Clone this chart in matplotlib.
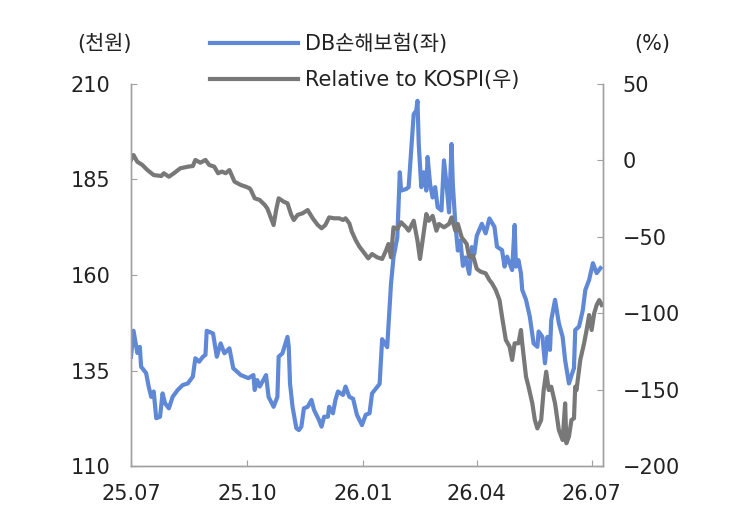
import pandas as pd
import matplotlib
matplotlib.use('Agg')
import matplotlib.pyplot as plt

plt.rcParams['font.family'] = ['DejaVu Sans', 'Noto Sans CJK KR']
plt.rcParams['axes.unicode_minus'] = True

# DB손해보험 주가 (천원, left axis)
db_dates = [
    '2025-07-01', '2025-07-03', '2025-07-06', '2025-07-08', '2025-07-09', '2025-07-13', '2025-07-15',
    '2025-07-17', '2025-07-19', '2025-07-21', '2025-07-24', '2025-07-26', '2025-07-28', '2025-07-31',
    '2025-08-03', '2025-08-07', '2025-08-11', '2025-08-15', '2025-08-19', '2025-08-21', '2025-08-24',
    '2025-08-27', '2025-08-29', '2025-08-30', '2025-09-04', '2025-09-07', '2025-09-10', '2025-09-13',
    '2025-09-17', '2025-09-20', '2025-09-26', '2025-10-02', '2025-10-06', '2025-10-07', '2025-10-09',
    '2025-10-11', '2025-10-16', '2025-10-18', '2025-10-22', '2025-10-25', '2025-10-26', '2025-10-29',
    '2025-11-02', '2025-11-03', '2025-11-04', '2025-11-06', '2025-11-09', '2025-11-11', '2025-11-13',
    '2025-11-15', '2025-11-18', '2025-11-21', '2025-11-23', '2025-11-27', '2025-11-29', '2025-12-01',
    '2025-12-04', '2025-12-05', '2025-12-08', '2025-12-10', '2025-12-12', '2025-12-16', '2025-12-18',
    '2025-12-21', '2025-12-24', '2025-12-27', '2025-12-31', '2026-01-03', '2026-01-06', '2026-01-08',
    '2026-01-14', '2026-01-16', '2026-01-20', '2026-01-23', '2026-01-25', '2026-01-28', '2026-01-30',
    '2026-01-31', '2026-02-04', '2026-02-06', '2026-02-08', '2026-02-10', '2026-02-12', '2026-02-13',
    '2026-02-14', '2026-02-16', '2026-02-18', '2026-02-20', '2026-02-21', '2026-02-23', '2026-02-25',
    '2026-02-27', '2026-03-01', '2026-03-04', '2026-03-06', '2026-03-08', '2026-03-10', '2026-03-12',
    '2026-03-13', '2026-03-15', '2026-03-17', '2026-03-19', '2026-03-21', '2026-03-23', '2026-03-26',
    '2026-03-28', '2026-03-30', '2026-04-01', '2026-04-05', '2026-04-08', '2026-04-11', '2026-04-15',
    '2026-04-17', '2026-04-21', '2026-04-23', '2026-04-25', '2026-04-29', '2026-05-01', '2026-05-02',
    '2026-05-04', '2026-05-06', '2026-05-07', '2026-05-10', '2026-05-13', '2026-05-16', '2026-05-19',
    '2026-05-20', '2026-05-23', '2026-05-25', '2026-05-27', '2026-05-29', '2026-05-30', '2026-06-02',
    '2026-06-05', '2026-06-08', '2026-06-10', '2026-06-13', '2026-06-16', '2026-06-17', '2026-06-18',
    '2026-06-21', '2026-06-24', '2026-06-26', '2026-06-29', '2026-07-02', '2026-07-05', '2026-07-08',
]
db_price = [
    138.6, 145.4, 139.6, 141.2, 136.0, 134.3, 130.8,
    128.1, 129.5, 122.5, 122.9, 129.0, 126.4, 125.1,
    128.1, 129.9, 131.2, 131.6, 133.4, 138.2, 137.3,
    138.6, 139.1, 145.4, 144.7, 138.6, 142.1, 139.5,
    140.8, 135.6, 133.8, 133.0, 133.8, 129.9, 132.5,
    130.8, 133.8, 128.1, 125.5, 128.1, 138.6, 139.5,
    143.8, 141.2, 131.6, 125.5, 119.9, 119.4, 120.3,
    125.1, 125.5, 127.3, 124.7, 122.0, 120.3, 122.9,
    122.9, 125.5, 123.8, 127.3, 129.5, 128.6, 130.8,
    128.1, 127.6, 123.4, 120.7, 123.4, 123.8, 129.0,
    131.5, 143.2, 141.1, 157.6, 164.6, 169.8, 186.9,
    182.1, 182.5, 183.0, 192.5, 202.1, 203.0, 205.6,
    194.3, 183.0, 186.9, 182.1, 190.9, 183.8, 180.3,
    183.0, 177.7, 176.9, 190.0, 183.8, 176.4, 194.3,
    183.8, 173.4, 166.4, 169.0, 162.4, 164.6, 160.3,
    167.3, 165.5, 170.3, 173.4, 170.9, 174.8, 172.6,
    167.4, 166.5, 162.2, 164.8, 161.3, 173.1, 162.2,
    163.9, 160.4, 156.1, 153.5, 149.1, 142.1, 141.2,
    145.2, 143.8, 136.9, 143.8, 140.4, 148.2, 153.5,
    147.4, 143.8, 137.7, 131.6, 134.7, 135.6, 145.6,
    146.5, 150.8, 156.1, 158.7, 163.1, 160.5, 161.8,
]

# Relative to KOSPI (%, right axis)
rel_dates = [
    '2025-07-01', '2025-07-03', '2025-07-06', '2025-07-10', '2025-07-14', '2025-07-19', '2025-07-25',
    '2025-07-27', '2025-07-31', '2025-08-04', '2025-08-09', '2025-08-15', '2025-08-19', '2025-08-21',
    '2025-08-25', '2025-08-29', '2025-09-01', '2025-09-05', '2025-09-08', '2025-09-11', '2025-09-14',
    '2025-09-17', '2025-09-21', '2025-09-26', '2025-09-30', '2025-10-03', '2025-10-04', '2025-10-07',
    '2025-10-11', '2025-10-15', '2025-10-17', '2025-10-20', '2025-10-22', '2025-10-24', '2025-10-26',
    '2025-10-30', '2025-11-02', '2025-11-05', '2025-11-07', '2025-11-10', '2025-11-14', '2025-11-18',
    '2025-11-22', '2025-11-26', '2025-11-29', '2025-12-02', '2025-12-05', '2025-12-09', '2025-12-13',
    '2025-12-16', '2025-12-18', '2025-12-21', '2025-12-23', '2025-12-26', '2025-12-29', '2025-12-31',
    '2026-01-03', '2026-01-05', '2026-01-08', '2026-01-12', '2026-01-16', '2026-01-19', '2026-01-21',
    '2026-01-23', '2026-01-25', '2026-01-28', '2026-01-31', '2026-02-04', '2026-02-06', '2026-02-10',
    '2026-02-13', '2026-02-15', '2026-02-17', '2026-02-20', '2026-02-22', '2026-02-25', '2026-02-28',
    '2026-03-02', '2026-03-06', '2026-03-10', '2026-03-12', '2026-03-15', '2026-03-17', '2026-03-20',
    '2026-03-24', '2026-03-26', '2026-03-29', '2026-04-01', '2026-04-04', '2026-04-08', '2026-04-11',
    '2026-04-13', '2026-04-16', '2026-04-19', '2026-04-21', '2026-04-24', '2026-04-27', '2026-04-29',
    '2026-05-01', '2026-05-04', '2026-05-06', '2026-05-07', '2026-05-10', '2026-05-12', '2026-05-15',
    '2026-05-17', '2026-05-19', '2026-05-22', '2026-05-24', '2026-05-26', '2026-05-28', '2026-05-30',
    '2026-06-02', '2026-06-05', '2026-06-08', '2026-06-10', '2026-06-11', '2026-06-13', '2026-06-15',
    '2026-06-17', '2026-06-18', '2026-06-19', '2026-06-22', '2026-06-25', '2026-06-27', '2026-06-29',
    '2026-07-01', '2026-07-03', '2026-07-05', '2026-07-07', '2026-07-09',
]
rel_kospi = [
    0.3, 3.5, -0.9, -3.0, -6.3, -9.6, -10.2,
    -8.4, -10.7, -8.4, -5.2, -4.1, -3.7, 0.3,
    -1.5, 0.3, -3.0, -4.1, -8.4, -7.3, -8.4,
    -6.3, -13.9, -16.1, -17.2, -18.3, -19.4, -24.8,
    -25.9, -29.2, -31.4, -37.9, -42.3, -32.5, -24.8,
    -27.0, -28.1, -35.7, -39.0, -35.7, -34.6, -32.5,
    -37.9, -42.3, -44.4, -42.3, -37.3, -37.9, -37.9,
    -39.0, -37.9, -41.2, -46.7, -52.1, -56.5, -58.6,
    -61.9, -64.1, -61.3, -63.4, -64.5, -59.1, -54.7,
    -63.4, -43.8, -44.9, -40.5, -43.8, -46.0, -39.5,
    -52.6, -64.5, -52.6, -35.1, -39.5, -36.3, -46.0,
    -41.6, -43.8, -41.6, -37.3, -46.0, -41.6, -50.3,
    -54.7, -63.4, -62.3, -71.0, -72.8, -73.9, -78.3,
    -80.4, -84.8, -91.4, -102.3, -117.5, -121.9, -130.6,
    -119.7, -119.7, -111.0, -119.7, -141.6, -148.1, -159.0,
    -169.9, -175.4, -169.9, -150.3, -138.3, -150.3, -148.1,
    -159.0, -176.4, -183.0, -159.0, -185.1, -180.8, -169.9,
    -168.8, -148.1, -150.3, -130.6, -119.7, -111.0, -101.2,
    -111.0, -100.1, -94.6, -91.4, -94.6,
]

x_ticks = ['2025-07-01', '2025-10-01', '2026-01-01', '2026-04-01', '2026-07-01']
x_labels = ['25.07', '25.10', '26.01', '26.04', '26.07']

axis_col = '#a0a0a0'
text_col = '#222222'
fs = 15

fig = plt.figure(figsize=(7.35, 5.21), dpi=100)
ax = fig.add_axes([131/735, 1 - 466/521, (603-131)/735, (466-84)/521])
ax2 = ax.twinx()

l1, = ax.plot(pd.to_datetime(db_dates), db_price, color='#5f88d6', lw=3, label='DB손해보험(좌)')
l2, = ax2.plot(pd.to_datetime(rel_dates), rel_kospi, color='#787878', lw=3, label='Relative to KOSPI(우)')

ax.set_xlim(pd.Timestamp('2025-07-01'), pd.Timestamp('2026-07-10'))
ax.set_ylim(110, 210)
ax.set_yticks([110, 135, 160, 185, 210])
ax2.set_ylim(-200, 50)
ax2.set_yticks([-200, -150, -100, -50, 0, 50])
ax.set_xticks(pd.to_datetime(x_ticks))
ax.set_xticklabels(x_labels)

for a in (ax, ax2):
    a.spines['top'].set_visible(False)
    for s in ('left', 'right', 'bottom'):
        a.spines[s].set_color(axis_col)
        a.spines[s].set_linewidth(1)
    a.tick_params(direction='in', length=4, color=axis_col, labelsize=fs, labelcolor=text_col)
ax.tick_params(axis='y', pad=15)
ax.tick_params(axis='x', pad=13)
ax2.tick_params(axis='y', pad=14)

fig.text(104/735, 1 - 44/521, '(천원)', ha='center', va='center', fontsize=fs, color=text_col)
fig.text(652/735, 1 - 44/521, '(%)', ha='center', va='center', fontsize=fs, color=text_col)

fig.legend(handles=[l1, l2], loc='center left', bbox_to_anchor=(210/735, 1 - 62/521),
           frameon=False, fontsize=fs, handlelength=4.2, handletextpad=0.35,
           labelspacing=0.78, borderpad=0, borderaxespad=0, labelcolor=text_col)

fig.savefig('out.png', dpi=100)
